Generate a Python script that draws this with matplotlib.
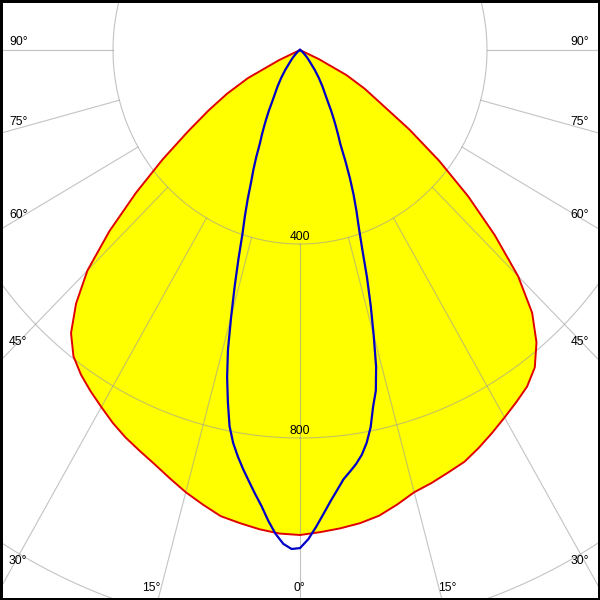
import numpy as np
import matplotlib
matplotlib.use("Agg")
import matplotlib.pyplot as plt
from matplotlib.patches import Rectangle

# gamma angles (deg) and intensities
red_angles = [0, 2.5, 5, 7.5, 10, 12.5, 15, 17.5, 20, 22.5, 25, 27.5, 30, 32.5, 35, 37.5,
              40, 42.5, 45, 47.5, 50, 52.5, 55, 57.5, 60, 62.5, 65, 67.5, 70, 75, 80, 85, 90]
# C0-C180 plane (yellow filled, red outline)
red_left = [1000, 998, 992, 984, 976, 960, 944, 926, 909, 895, 882, 867, 850, 834, 817, 796,
            762, 709, 643, 553, 458, 370, 292, 232, 180, 126, 50, 0, 0, 0, 0, 0, 0]
red_right = [1000, 995, 990, 984, 975, 960, 944, 936, 927, 919, 905, 890, 875, 861, 847, 825,
             787, 735, 660, 565, 470, 375, 285, 205, 160, 112, 45, 0, 0, 0, 0, 0, 0]

# C90-C270 plane (blue line)
blue_angles = [0, 1, 2, 3, 4, 5, 6, 7, 8, 9, 10, 11, 12, 13, 14, 15, 16, 17, 18, 19, 20,
               21, 22, 23, 24, 25, 26, 27, 28, 29, 30, 32.5, 35, 37.5, 40, 42.5, 45, 50,
               55, 60, 65, 70, 80, 90]
blue_left = [1027, 1029, 1019, 999, 973, 944, 920, 896, 873, 849, 823, 790, 742, 693, 637,
             569, 507, 450, 398, 362, 327, 292, 266, 239, 211, 193, 175, 158, 142, 125, 112,
             90, 70, 52, 36, 27, 20, 10, 5, 2, 0, 0, 0, 0]
blue_right = [1027, 1009, 984, 958, 933, 911, 890, 876, 862, 845, 822, 792, 752, 721, 673,
              609, 549, 490, 430, 386, 353, 320, 285, 248, 212, 193, 175, 158, 142, 125, 112,
              90, 70, 52, 36, 27, 20, 10, 5, 2, 0, 0, 0, 0]

grid_angles = [-90, -75, -60, -45, -30, -15, 0, 15, 30, 45, 60, 75, 90]
ring_values = [400, 800, 1200]
ring_labels = ["400", "800"]
side_labels = ["90°", "75°", "60°", "45°", "30°"]
bottom_labels = ["15°", "0°", "15°"]

# layout (pixels); the picture is drawn slightly narrower than tall
W = H = 600
cx, cy = 300, 50
rmax = 1350
sx, sy = 187 / 400, 194 / 400
Rx, Ry = rmax * sx, rmax * sy
side_y = [42, 122, 215, 342, 561]
bottom_x = [151, 299, 447]
font = dict(family="Liberation Sans", fontsize=8.7, color="black")

fig = plt.figure(figsize=(6, 6), dpi=100)
ax = fig.add_axes([(cx - Rx) / W, 1 - (cy + Ry) / H, 2 * Rx / W, 2 * Ry / H], projection="polar")
ax.set_aspect("auto")
ax.set_theta_zero_location("S")
ax.set_ylim(0, rmax)
ax.set_axis_off()


def both_sides(angles, left, right):
    t = np.concatenate([-np.array(angles[::-1]), np.array(angles[1:])])
    r = np.concatenate([np.array(left[::-1]), np.array(right[1:])])
    return np.deg2rad(t), r


t_red, r_red = both_sides(red_angles, red_left, red_right)
t_blue, r_blue = both_sides(blue_angles, blue_left, blue_right)

ax.fill(t_red, r_red, color="#ffff00", lw=0, zorder=1)

# grid: rings and radial lines from the first ring outward
grid_kw = dict(color="#9c9c9c", lw=0.8, alpha=0.6, zorder=2)
for rv in ring_values:
    tt = np.linspace(0, 2 * np.pi, 721)
    ax.plot(tt, np.full_like(tt, rv), **grid_kw)
for a in grid_angles:
    ax.plot([np.deg2rad(a)] * 2, [ring_values[0], rmax], **grid_kw)

ax.plot(t_red, r_red, color="#e00000", lw=1.4, zorder=3)
ax.plot(t_blue, r_blue, color="#0000c8", lw=1.6, zorder=4)

for rv, lab in zip(ring_values, ring_labels):
    ax.annotate(lab, xy=(0, rv), xytext=(0, 0.5), textcoords="offset points",
                ha="center", va="bottom", zorder=5, **font)

for lab, y in zip(side_labels, side_y):
    fig.text(9 / W, 1 - y / H, lab, ha="left", va="center", **font)
    fig.text(589 / W, 1 - y / H, lab, ha="right", va="center", **font)
for lab, x in zip(bottom_labels, bottom_x):
    fig.text(x / W, 1 - 588 / H, lab, ha="center", va="center", **font)

fig.add_artist(Rectangle((0, 0), 1, 1, transform=fig.transFigure, fill=False,
                         ec="black", lw=3.6, zorder=10))

fig.savefig("out.png", dpi=100)
